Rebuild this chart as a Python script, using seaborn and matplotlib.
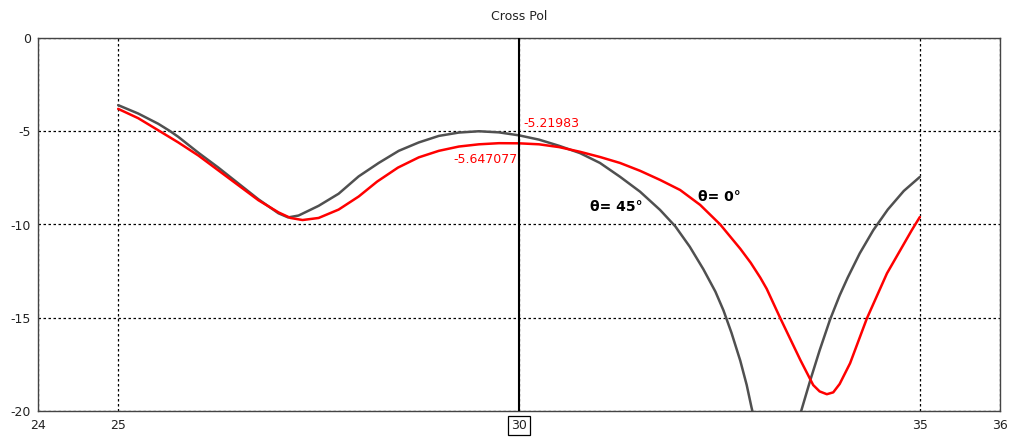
import matplotlib
matplotlib.use("Agg")
import matplotlib.pyplot as plt
import seaborn as sns
import pandas as pd

# theta = 45 deg (grey)
x45 = [25.0, 25.25, 25.5, 25.65, 25.75, 26.0, 26.25, 26.5, 26.75, 27.0, 27.12, 27.25,
       27.5, 27.75, 27.93, 28.0, 28.25, 28.5, 28.75, 29.0, 29.25, 29.5, 29.75, 30.0,
       30.25, 30.5, 30.76, 31.01, 31.26, 31.51, 31.76, 31.95, 32.13, 32.3, 32.45,
       32.55, 32.65, 32.76, 32.84, 32.9, 33.05, 33.25, 33.4, 33.52, 33.63, 33.75, 33.88,
       34.0, 34.1, 34.25, 34.42, 34.6, 34.8, 35.0]
y45 = [-3.6, -4.05, -4.6, -5.0, -5.3, -6.15, -6.95, -7.8, -8.65, -9.4, -9.62, -9.52,
       -9.0, -8.35, -7.68, -7.42, -6.7, -6.05, -5.6, -5.25, -5.07, -5.0, -5.06, -5.21983,
       -5.45, -5.78, -6.17, -6.7, -7.44, -8.24, -9.22, -10.1, -11.19, -12.4, -13.6,
       -14.6, -15.8, -17.3, -18.6, -19.8, -22.5, -25.0, -22.5, -20.0, -18.4, -16.75,
       -15.1, -13.8, -12.85, -11.55, -10.3, -9.2, -8.2, -7.45]

# theta = 0 deg (red)
x0 = [25.0, 25.25, 25.52, 25.75, 26.0, 26.25, 26.5, 26.75, 27.0, 27.15, 27.3, 27.5,
      27.75, 28.0, 28.23, 28.49, 28.75, 29.0, 29.25, 29.5, 29.75, 30.0, 30.25, 30.5,
      30.76, 31.01, 31.26, 31.51, 31.76, 32.01, 32.26, 32.51, 32.76, 32.89, 33.01,
      33.09, 33.26, 33.51, 33.67, 33.75, 33.84, 33.92, 34.0, 34.13, 34.34, 34.59, 34.9,
      35.0]
y0 = [-3.8, -4.3, -5.0, -5.6, -6.3, -7.1, -7.9, -8.7, -9.35, -9.65, -9.76, -9.65,
      -9.2, -8.5, -7.7, -6.95, -6.4, -6.05, -5.82, -5.7, -5.64, -5.647077, -5.7, -5.85,
      -6.1, -6.38, -6.7, -7.12, -7.61, -8.15, -8.95, -10.0, -11.3, -12.05, -12.85,
      -13.45, -15.03, -17.27, -18.61, -18.95, -19.1, -19.0, -18.55, -17.44, -15.03,
      -12.62, -10.3, -9.6]

x_ticks = [24, 25, 30, 35, 36]
y_ticks = [0, -5, -10, -15, -20]
cursor_x = 30
label45 = "-5.21983"
label0 = "-5.647077"

sns.set_theme(style="white")
plt.rcParams['font.family'] = ['DejaVu Sans']

fig = plt.figure(figsize=(10.12, 4.4), dpi=100)
ax = fig.add_axes([38/1012, 29/440, 962/1012, 373/440])

df45 = pd.DataFrame({"x": x45, "y": y45})
df0 = pd.DataFrame({"x": x0, "y": y0})
sns.lineplot(data=df45, x="x", y="y", color="#505050", lw=1.8, ax=ax, sort=False)
sns.lineplot(data=df0, x="x", y="y", color="#ff0000", lw=1.8, ax=ax, sort=False)

ax.axvline(cursor_x, color="black", lw=1.5, zorder=3)

ax.set_xlim(24, 36)
ax.set_ylim(-20, 0)
ax.set_xticks(x_ticks)
ax.set_yticks(y_ticks)
ax.set_xticklabels([str(t) for t in x_ticks])
ax.set_yticklabels([str(t) for t in y_ticks])
ax.set_xlabel("")
ax.set_ylabel("")
ax.grid(True, color="black", linestyle=(0, (2, 2)), lw=0.9)
ax.tick_params(axis="both", direction="inout", length=6, width=1, color="#333333",
               labelsize=9, labelcolor="#222222", pad=2)
ax.tick_params(axis="x", pad=3)
for lbl in ax.get_xticklabels():
    if lbl.get_text() == "30":
        lbl.set_bbox(dict(facecolor="white", edgecolor="black", boxstyle="square,pad=0.25", lw=0.9))

for s in ax.spines.values():
    s.set_color("#444444")
    s.set_linewidth(1.0)

ax.set_title("Cross Pol", fontsize=9, color="#222222", pad=13)

ax.text(30.05, -4.6, label45, color="#ff0000", fontsize=9, ha="left", va="center")
ax.text(29.98, -6.5, label0, color="#ff0000", fontsize=9, ha="right", va="center")
ax.text(31.22, -9.05, "θ= 45°", color="black", fontsize=10, fontweight="bold",
        ha="center", va="center")
ax.text(32.5, -8.5, "θ= 0°", color="black", fontsize=10, fontweight="bold",
        ha="center", va="center")

fig.savefig("out.png", dpi=100)
